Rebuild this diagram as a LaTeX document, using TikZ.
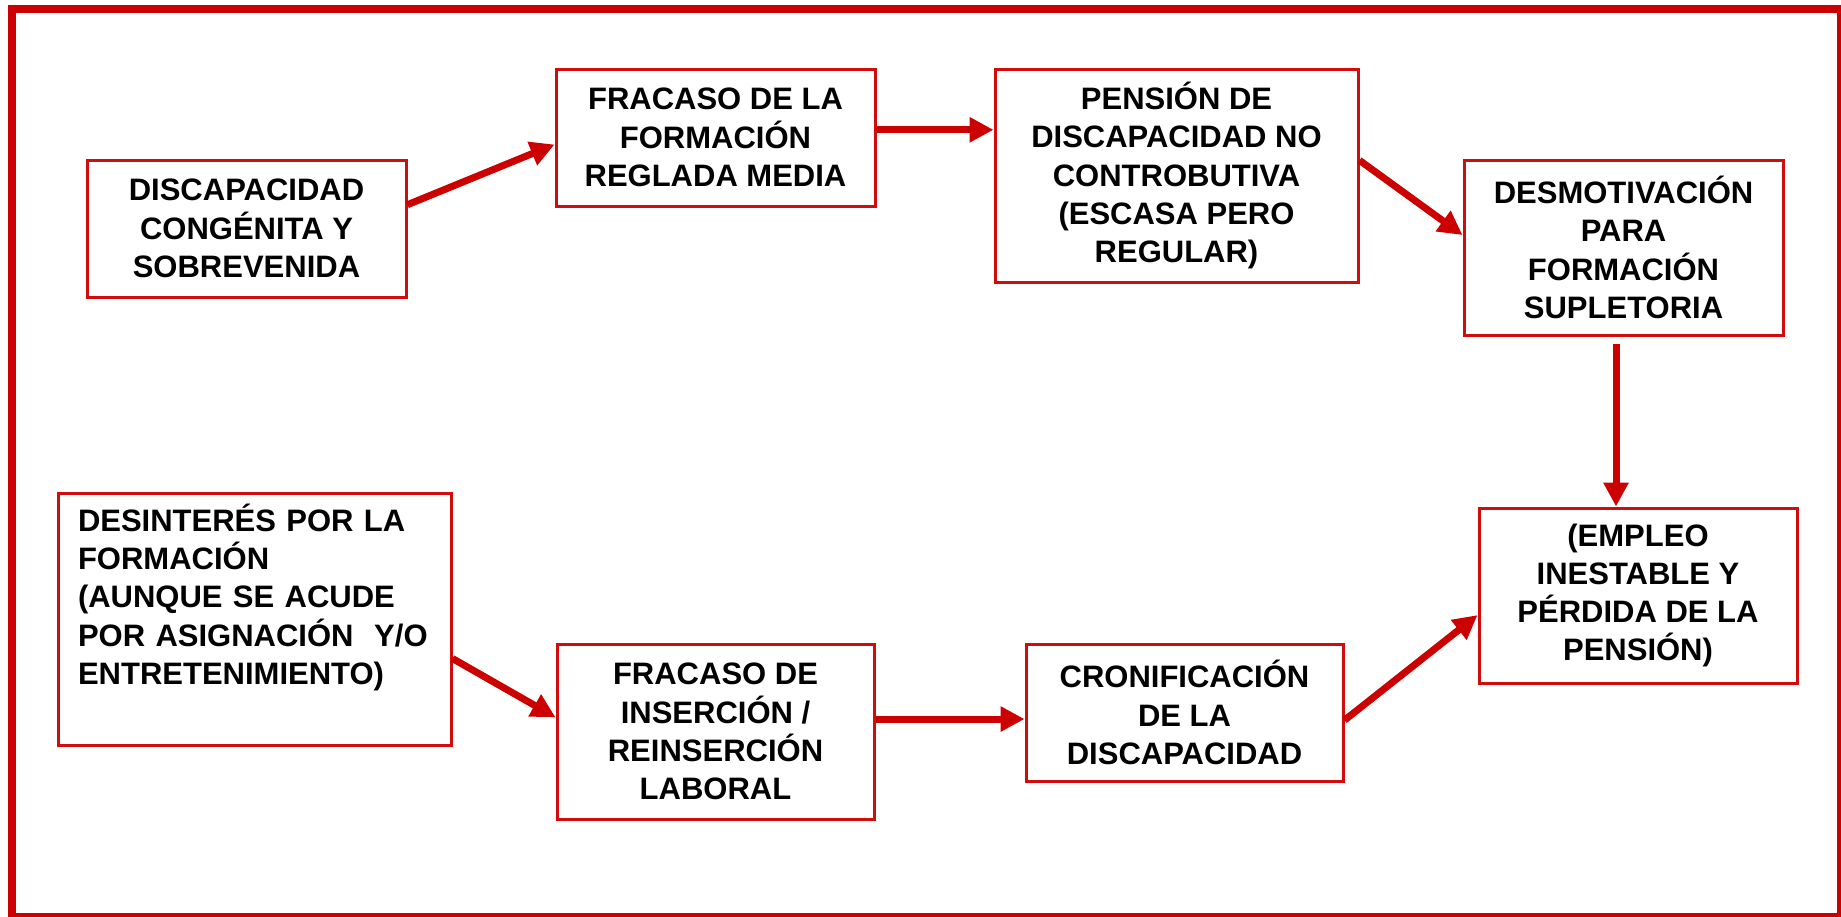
\documentclass[tikz,border=0pt]{standalone}
\usepackage{fontspec}
\setmainfont{Liberation Sans}
\usetikzlibrary{arrows.meta,calc}
\definecolor{fred}{RGB}{204,0,0}
\definecolor{bred}{RGB}{210,12,12}
\begin{document}
\begin{tikzpicture}[x=1pt,y=-1pt,
  box/.style={draw=bred,line width=3pt,fill=white,inner sep=0pt,align=center,
    font=\fontsize{31}{38.3}\selectfont\bfseries,text=black},
  arr/.style={draw=fred,line width=7pt,-{Triangle[length=24pt,width=24pt]}}]
\useasboundingbox (0,0) rectangle (1841,916);
\draw[fred,line width=7.5pt] (12,9) rectangle (1841,916.5);
% top row
\node[box,minimum width=319pt,minimum height=137pt] (A) at (246.5,228.5)
  {DISCAPACIDAD\\CONGÉNITA Y\\SOBREVENIDA};
\node[box,minimum width=319pt,minimum height=137pt] (B) at (715.5,137.5)
  {FRACASO DE LA\\FORMACIÓN\\REGLADA MEDIA};
\node[box,minimum width=363pt,minimum height=213pt] (C) at (1176.5,175.5)
  {PENSIÓN DE\\DISCAPACIDAD NO\\CONTROBUTIVA\\(ESCASA PERO\\REGULAR)};
\node[box,minimum width=319pt,minimum height=175pt] (D) at (1623.5,247.5)
  {DESMOTIVACIÓN\\PARA\\FORMACIÓN\\SUPLETORIA};
% bottom row
\node[box,minimum width=318pt,minimum height=175pt] (E) at (1638,595.5)
  {(EMPLEO\\INESTABLE Y\\PÉRDIDA DE LA\\PENSIÓN)};
\node[box,align=left,text width=353pt,inner xsep=20pt,minimum height=252pt] (F) at (254.5,619)
  {DESINTERÉS POR LA\\FORMACIÓN\\(AUNQUE SE ACUDE\\POR ASIGNACIÓN~ Y/O\\ENTRETENIMIENTO)\\\strut};
\node[box,minimum width=317pt,minimum height=175pt] (G) at (715.5,731.5)
  {FRACASO DE\\INSERCIÓN /\\REINSERCIÓN\\LABORAL};
\node[box,minimum width=317pt,minimum height=137pt] (H) at (1184.5,712.5)
  {CRONIFICACIÓN\\DE LA\\DISCAPACIDAD};
% connectors
\draw[arr] ($(A.north east)!0.33!(A.south east)$) -- ($(B.north west)!0.55!(B.south west)$);
\draw[arr] ($(B.north east)!0.445!(B.south east)$) coordinate (b1) -- (b1 -| C.west);
\draw[arr] ($(C.north east)!0.43!(C.south east)$) -- ($(D.north west)!0.43!(D.south west)$);
\draw[arr] ([shift={(-7.5pt,-7pt)}]D.south) coordinate (d1) -- (d1 |- E.north);
\draw[arr] ($(F.north east)!0.655!(F.south east)$) -- ($(G.north west)!0.42!(G.south west)$);
\draw[arr] ($(G.north east)!0.43!(G.south east)$) coordinate (g1) -- (g1 -| H.west);
\draw[arr] ($(H.north east)!0.555!(H.south east)$) -- ($(E.north west)!0.61!(E.south west)$);
\end{tikzpicture}
\end{document}
